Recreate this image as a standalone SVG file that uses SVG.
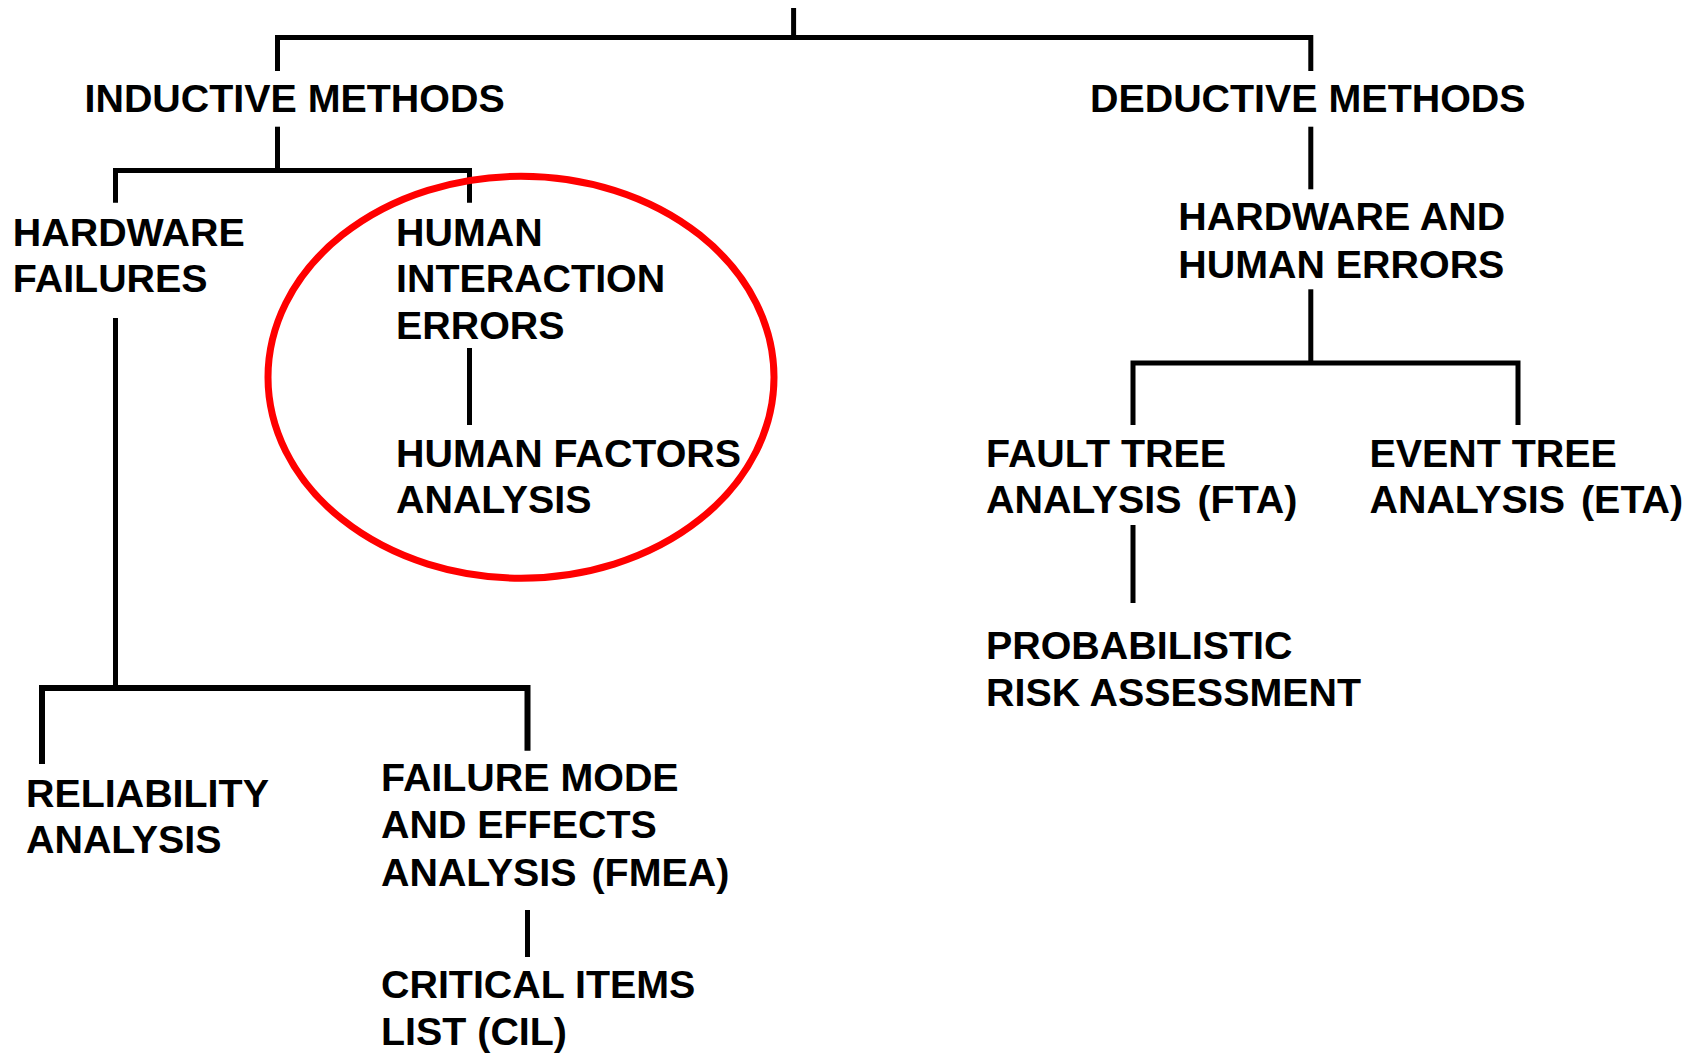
<svg xmlns="http://www.w3.org/2000/svg" width="1698" height="1053" viewBox="0 0 1698 1053">
<style>
.t{font-family:"Liberation Sans",Arial,sans-serif;font-weight:bold;font-size:39.4px;fill:#000}
.c{fill:none;stroke:#000;stroke-width:5;stroke-linejoin:miter;stroke-linecap:butt}
</style>
<rect width="1698" height="1053" fill="#fff"/>
<g id="connectors">
<path class="c" d="M793.6 8 V37.5"/>
<path class="c" d="M277.5 71 V37.5 H1310.8 V71"/>
<path class="c" d="M277.5 126.7 V170.5"/>
<path class="c" d="M115.5 202.7 V170.5 H469.5 V202.7"/>
<path class="c" d="M469.5 348 V425"/>
<path class="c" d="M115.5 318 V688"/>
<path class="c" d="M42 764 V688 H527.5 V750.7" style="stroke-width:6"/>
<path class="c" d="M527.5 910 V957"/>
<path class="c" d="M1310.8 126.7 V189.3"/>
<path class="c" d="M1310.8 289.3 V363"/>
<path class="c" d="M1133 425 V363 H1518 V425"/>
<path class="c" d="M1133 525 V603"/>
</g>
<g id="inductive"><text class="t" x="84.5" y="111.7">INDUCTIVE METHODS</text></g>
<g id="deductive"><text class="t" x="1090" y="111.7">DEDUCTIVE METHODS</text></g>
<g id="hardware-failures"><text class="t" x="12.8" y="245.7">HARDWARE</text><text class="t" x="12.8" y="291.7">FAILURES</text></g>
<g id="human-interaction"><text class="t" x="396" y="245.7">HUMAN</text><text class="t" x="396" y="291.7">INTERACTION</text><text class="t" x="396" y="339">ERRORS</text></g>
<g id="human-factors"><text class="t" x="396" y="467.3">HUMAN FACTORS</text><text class="t" x="396" y="513.3">ANALYSIS</text></g>
<g id="highlight"><ellipse cx="521" cy="377.2" rx="253" ry="201" fill="none" stroke="#ff0000" stroke-width="7"/></g>
<g id="hw-human-errors"><text class="t" x="1178.3" y="230">HARDWARE AND</text><text class="t" x="1178.3" y="277.7">HUMAN ERRORS</text></g>
<g id="fta"><text class="t" x="986" y="467.3">FAULT TREE</text><text class="t" x="986" y="513.3">ANALYSIS <tspan dx="5">(FTA)</tspan></text></g>
<g id="eta"><text class="t" x="1369.5" y="467.3">EVENT TREE</text><text class="t" x="1369.5" y="513.3">ANALYSIS <tspan dx="5">(ETA)</tspan></text></g>
<g id="pra"><text class="t" x="986" y="659">PROBABILISTIC</text><text class="t" x="986" y="705.7">RISK ASSESSMENT</text></g>
<g id="reliability"><text class="t" x="26" y="807.3">RELIABILITY</text><text class="t" x="26" y="853.3">ANALYSIS</text></g>
<g id="fmea"><text class="t" x="381" y="791">FAILURE MODE</text><text class="t" x="381" y="838.3">AND EFFECTS</text><text class="t" x="381" y="886">ANALYSIS <tspan dx="4">(FMEA)</tspan></text></g>
<g id="cil"><text class="t" x="381" y="997.7">CRITICAL ITEMS</text><text class="t" x="381" y="1045">LIST (CIL)</text></g>
</svg>
